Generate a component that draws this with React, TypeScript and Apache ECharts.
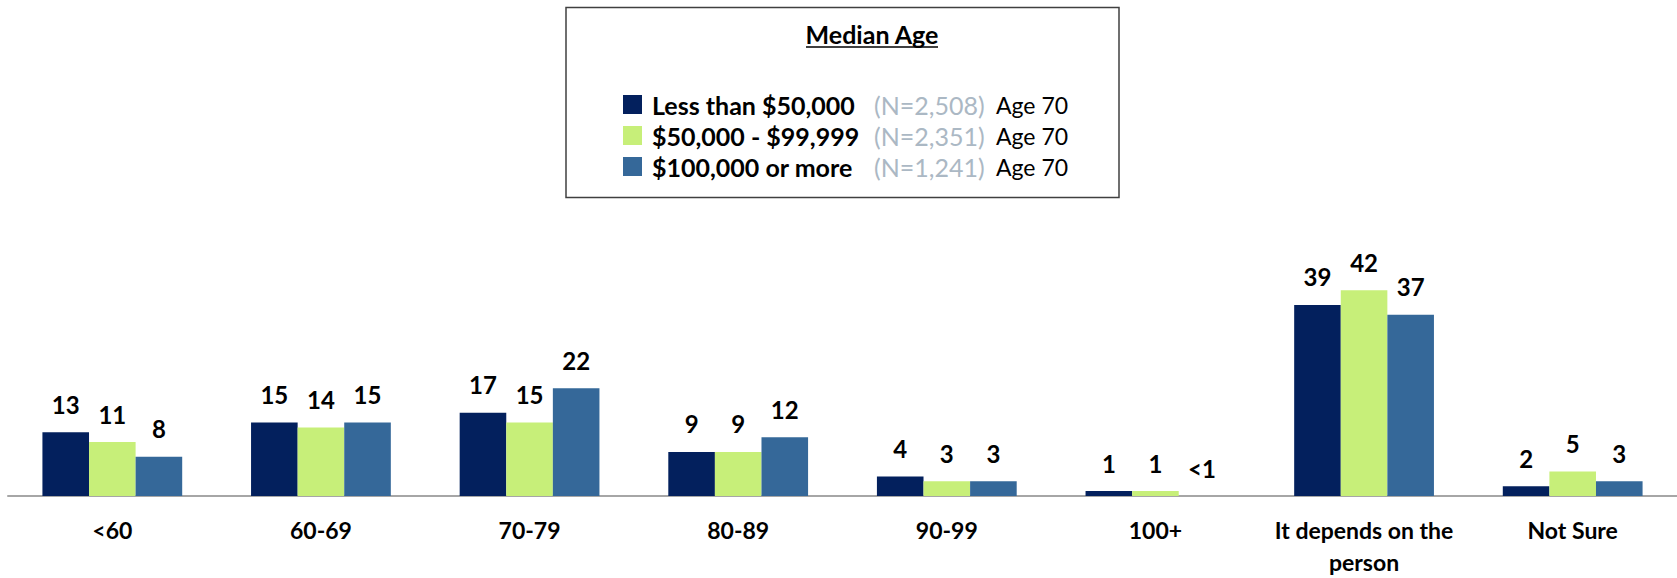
import React, { useEffect, useRef } from "react";
import * as echarts from "echarts";

const categories = ["<60", "60-69", "70-79", "80-89", "90-99", "100+", "It depends on the\nperson", "Not Sure"];
const seriesNames = ["Less than $50,000", "$50,000 - $99,999", "$100,000 or more"];
const sampleSizes = ["(N=2,508)", "(N=2,351)", "(N=1,241)"];
const medianAges = ["Age 70", "Age 70", "Age 70"];
const lessThan50k = [13, 15, 17, 9, 4, 1, 39, 2];
const from50kTo99k = [11, 14, 15, 9, 3, 1, 42, 5];
const over100k = [8, 15, 22, 12, 3, 0, 37, 3];
const colors = ["#03205D", "#C7EF79", "#356899"];

const FONT = "Lato, 'Open Sans', sans-serif";

export default function App() {
  const ref = useRef<HTMLDivElement>(null);
  useEffect(() => {
    if (!ref.current) return;
    const chart = echarts.init(ref.current, null, { renderer: "svg" });
    const values = [lessThan50k, from50kTo99k, over100k];
    const series = seriesNames.map((name, i) => ({
      name,
      type: "bar",
      data: values[i],
      barGap: "0%",
      barCategoryGap: "33%",
      itemStyle: { color: colors[i] },
      label: {
        show: true,
        position: "top",
        distance: 16,
        fontFamily: FONT,
        fontWeight: "bold",
        fontSize: 24,
        lineHeight: 24,
        color: "#000",
        formatter: (p: any) => (p.value < 1 ? "<1" : String(p.value)),
      },
    }));
    chart.setOption({
      animation: false,
      textStyle: { fontFamily: FONT },
      grid: { left: 8, right: 0, top: 251, bottom: 79 },
      xAxis: {
        type: "category",
        data: categories,
        axisLine: { lineStyle: { color: "#A6A6A6", width: 2 } },
        axisTick: { show: false },
        axisLabel: {
          interval: 0,
          margin: 18,
          fontFamily: FONT,
          fontWeight: "bold",
          fontSize: 23,
          lineHeight: 32,
          color: "#000",
        },
      },
      yAxis: { type: "value", min: 0, max: 50, show: false, splitLine: { show: false } },
      legend: {
        orient: "vertical",
        left: 618,
        top: 87,
        itemWidth: 19,
        itemHeight: 19,
        itemGap: 6,
        icon: "rect",
        data: seriesNames,
        formatter: (name: string) => {
          const i = seriesNames.indexOf(name);
          return `{b|${name}}{g|${sampleSizes[i]}}{r|${medianAges[i]}}`;
        },
        textStyle: {
          fontFamily: FONT,
          rich: {
            b: { fontWeight: "bold", fontSize: 25, color: "#000", lineHeight: 26, fontFamily: FONT, padding: [0, 0, 0, 5], width: 216 },
            g: { fontSize: 25, color: "#ABB8C4", lineHeight: 26, fontFamily: FONT, padding: [0, 0, 0, 6], width: 110 },
            r: { fontSize: 23, color: "#000", lineHeight: 26, fontFamily: FONT, padding: [0, 0, 0, 12] },
          },
        },
      },
      graphic: [
        {
          type: "rect",
          shape: { x: 566, y: 7.5, width: 553, height: 190 },
          style: { fill: "none", stroke: "#404040", lineWidth: 1.5 },
          z: 0,
        },
        {
          type: "text",
          x: 872,
          y: 34,
          style: {
            text: "Median Age",
            fontFamily: FONT,
            fontWeight: "bold",
            fontSize: 25,
            fill: "#000",
            align: "center",
            verticalAlign: "middle",
          },
        },
        {
          type: "line",
          shape: { x1: 806, y1: 47, x2: 938, y2: 47 },
          style: { stroke: "#000", lineWidth: 1.5 },
        },
      ],
      series,
    });
    return () => chart.dispose();
  }, []);
  return (
    <div
      ref={ref}
      style={{ position: "fixed", left: 0, top: 0, width: 1677, height: 578, background: "#fff" }}
    />
  );
}
